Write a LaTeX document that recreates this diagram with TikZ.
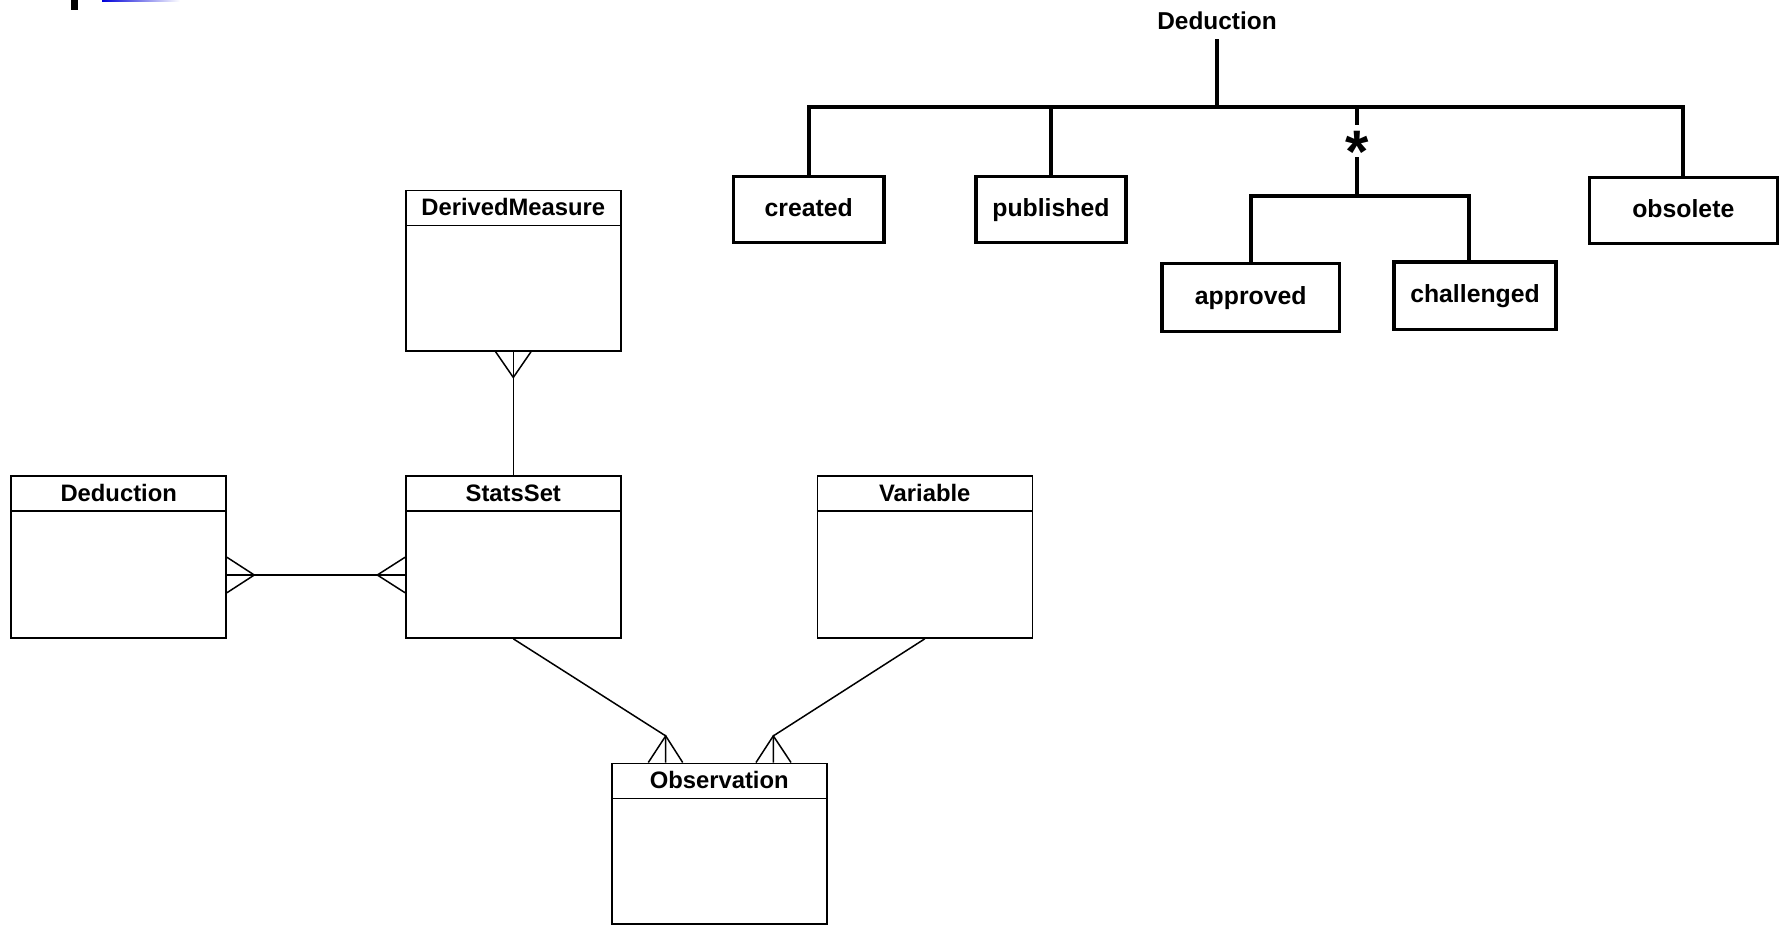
\documentclass[tikz,border=0pt]{standalone}
\usepackage{fontspec}
\setmainfont{Liberation Sans}
\usetikzlibrary{calc}
\begin{document}
\begin{tikzpicture}[x=0.5pt,y=-0.5pt,
  thin/.style={line width=0.75pt},
  cls/.style={draw, line width=0.8pt, minimum width=107.5pt, minimum height=81pt, inner sep=0pt},
  hdr/.style={inner sep=0pt, text height=0.72em, text depth=0pt, font=\fontsize{11.9}{13}\selectfont\bfseries},
  tree/.style={line width=2pt},
  st/.style={draw, line width=1.75pt, inner sep=0pt, minimum height=33pt, text height=0.72em, text depth=0pt, font=\fontsize{12.4}{14}\selectfont\bfseries}]
\useasboundingbox (0,0) rectangle (1786,925);
% top-left marks
\fill (71,0) rectangle (78,10);
\shade[left color=blue!85!black, right color=white] (102,0) rectangle (180,1.5);

% ---------- class boxes ----------
\node[cls, minimum height=80.25pt] (dm) at (513.3,270.7) {};
\node[cls] (ss) at (513.3,557) {};
\node[cls] (ded) at (118.7,557) {};
\node[cls] (var) at (924.8,557) {};
\node[cls, minimum height=80.35pt] (obs) at (719.2,843.65) {};
\foreach \b/\t in {dm/DerivedMeasure, ss/StatsSet, ded/Deduction, var/Variable, obs/Observation}{
  \draw[line width=0.8pt] ($(\b.north west)+(0,36)$) -- ($(\b.north east)+(0,36)$);
  \node[hdr] (\b-h) at ($(\b.north)+(0,19)$) {\t};
}

% DerivedMeasure -- StatsSet
\draw[thin] (dm.south) -- (ss.north);
\draw[thin] ($(dm.south)+(-17.7,0)$) -- ($(dm.south)+(0,25.7)$) -- ($(dm.south)+(17.7,0)$);

% Deduction -- StatsSet
\coordinate (de) at ($(ded.east)+(0,18)$);
\coordinate (sw) at ($(ss.west)+(0,18)$);
\draw[thin] (de) -- (sw);
\draw[thin] ($(de)+(0,-17.7)$) -- ($(de)+(27.3,0)$) -- ($(de)+(0,17.7)$);
\draw[thin] ($(sw)+(0,-17.7)$) -- ($(sw)+(-27.7,0)$) -- ($(sw)+(0,17.7)$);

% StatsSet -- Observation
\coordinate (o1) at ($(obs.north)+(-53.5,-26.6)$);
\draw[thin] (ss.south) -- (o1) -- (o1 |- obs.north);
\draw[thin] ($(o1 |- obs.north)+(-17.4,0)$) -- (o1) -- ($(o1 |- obs.north)+(17,0)$);

% Variable -- Observation
\coordinate (o2) at ($(obs.north)+(54.1,-26.6)$);
\draw[thin] (var.south) -- (o2) -- (o2 |- obs.north);
\draw[thin] ($(o2 |- obs.north)+(-17.3,0)$) -- (o2) -- ($(o2 |- obs.north)+(17.7,0)$);

% ---------- state tree ----------
\node[inner sep=0pt, font=\fontsize{12.2}{14}\selectfont\bfseries] (dtop) at (1217,20.5) {Deduction};
\node[st, minimum width=75.35pt] (created) at (808.7,209.7) {created};
\node[st, minimum width=75.15pt] (published) at (1050.9,209.7) {published};
\node[st, minimum width=94pt] (obsolete) at (1683.3,210.3) {obsolete};
\node[st, minimum width=88.85pt, minimum height=34pt] (approved) at (1250.7,297.4) {approved};
\node[st, minimum width=80.9pt, minimum height=33.75pt] (challenged) at (1475,295.5) {challenged};

\coordinate (bar) at (0,106.7);
\coordinate (sub) at (0,196);
\coordinate (br) at (1356.7,106.7);
\coordinate (brs) at (1356.7,196);
\coordinate (chn) at ($(challenged.north)+(-5.7,0)$);

\draw[tree] ([yshift=-4.7pt]dtop.south) -- (dtop.south |- bar);
\draw[tree, line join=miter] (created.north) -- (created.north |- bar) -- (obsolete.north |- bar) -- (obsolete.north);
\draw[tree] (published.north) -- (published.north |- bar);
\draw[tree] (br) -- node[pos=0.385, fill=white, inner sep=0pt, minimum height=15.85pt, font=\fontsize{30}{32}\selectfont\bfseries] (star) {\raisebox{-15.5pt}[0pt][0pt]{*}} (brs);
\draw[tree, line join=miter] (approved.north) -- (approved.north |- sub) -- (chn |- sub) -- (chn);
\end{tikzpicture}
\end{document}
